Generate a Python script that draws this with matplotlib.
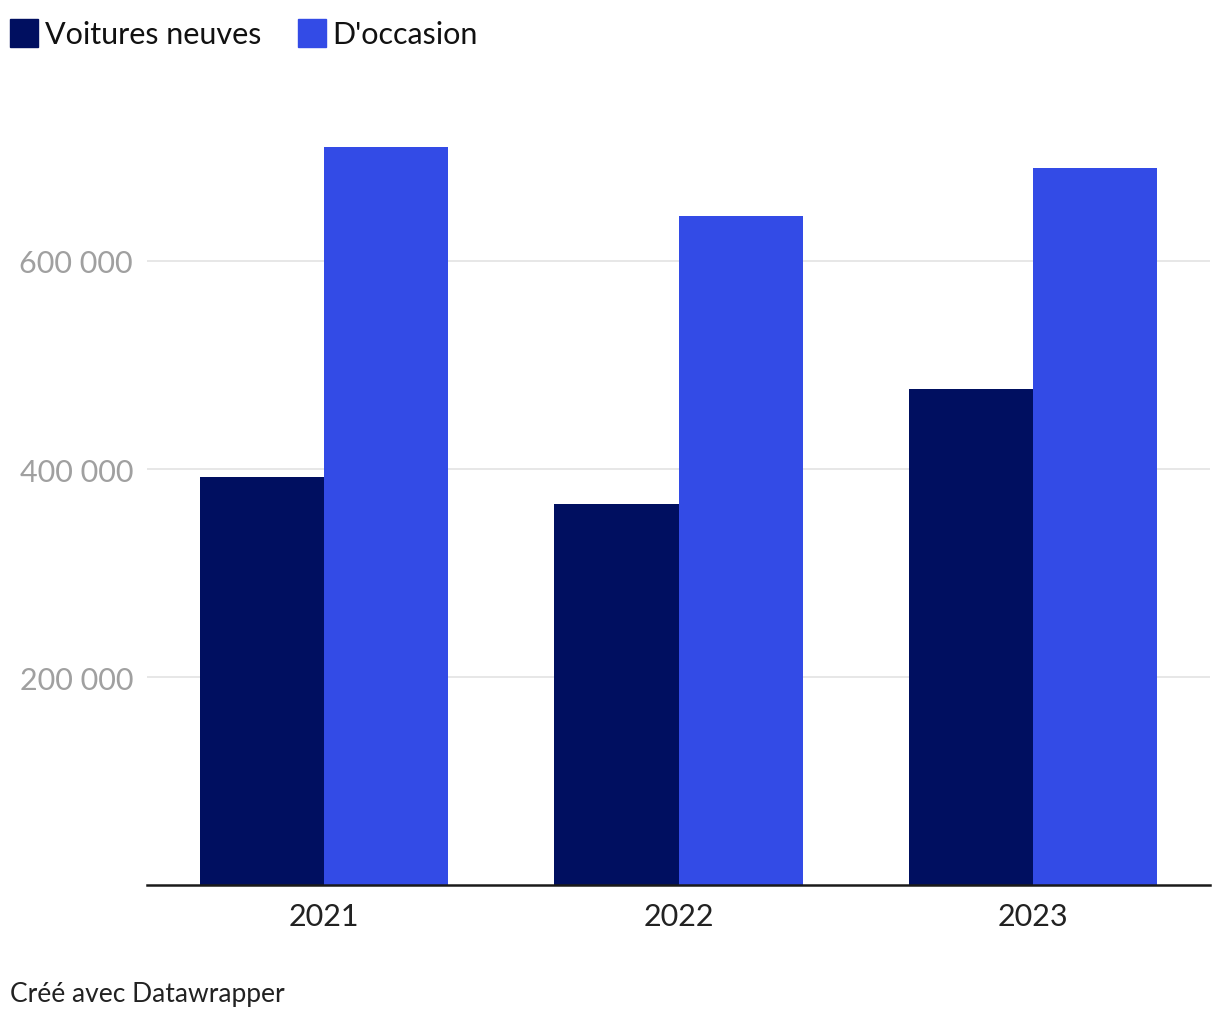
import matplotlib.pyplot as plt
import matplotlib.patches as mpatches
import numpy as np

plt.rcParams["font.family"] = ["Lato", "DejaVu Sans"]

annees = ["2021", "2022", "2023"]
neuves = [392000, 366000, 477000]
occasion = [710000, 643000, 689000]
series = ["Voitures neuves", "D'occasion"]
couleurs = ["#000f60", "#334be6"]
yticks = [200000, 400000, 600000]

W, H = 1220, 1020
fig = plt.figure(figsize=(W / 100, H / 100), dpi=100)

y_max = 740000
base_px = 886
top_px = base_px - y_max * 1.04 / 1000
ax = fig.add_axes([147 / W, 1 - base_px / H, (1210 - 147) / W, (base_px - top_px) / H])

x = np.arange(len(annees))
largeur = 0.35
ax.bar(x - largeur / 2, neuves, largeur, color=couleurs[0], zorder=2)
ax.bar(x + largeur / 2, occasion, largeur, color=couleurs[1], zorder=2)

ax.set_xlim(-0.5, 2.5)
ax.set_ylim(0, y_max)
ax.set_xticks(x)
ax.set_xticklabels(annees, fontsize=22, color="#222222")
ax.set_yticks(yticks)
ax.set_yticklabels([f"{v:,}".replace(",", " ") for v in yticks], fontsize=22, color="#a0a0a0")
ax.tick_params(axis="x", length=0, pad=12)
ax.tick_params(axis="y", length=0, pad=10)
ax.grid(axis="y", color="#e3e3e3", linewidth=1.2, zorder=0)

for s in ["top", "right", "left"]:
    ax.spines[s].set_visible(False)
ax.spines["bottom"].set_color("#1a1a1a")
ax.spines["bottom"].set_linewidth(1.8)
ax.spines["bottom"].set_zorder(3)

# legende
positions = [(10, 45), (298, 332)]
for (xc, xt), nom, c in zip(positions, series, couleurs):
    fig.patches.append(mpatches.Rectangle((xc / W, 1 - 48 / H), 28 / W, 28 / H,
                                          transform=fig.transFigure, color=c))
    fig.text(xt / W, 1 - 35 / H, nom, fontsize=22, color="#111111", va="center", ha="left")

fig.text(10 / W, 1 - 995 / H, "Créé avec Datawrapper", fontsize=19, color="#222222",
         va="center", ha="left")

fig.savefig("out.png", dpi=100, facecolor="white")
